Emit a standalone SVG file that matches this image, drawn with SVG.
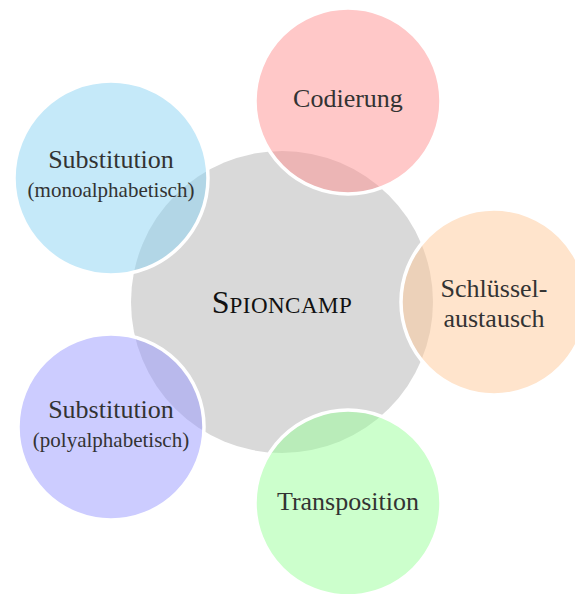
<svg xmlns="http://www.w3.org/2000/svg" width="575" height="594" viewBox="0 0 575 594">
<style>
.center{fill:#d9d9d9;}
.bub{fill-opacity:0.5;stroke:#ffffff;stroke-width:3.5;}
.t{font-family:"Liberation Serif","Times New Roman",serif;font-size:26px;fill:#333333;text-anchor:middle;}
.s{font-family:"Liberation Serif","Times New Roman",serif;font-size:21px;fill:#333333;text-anchor:middle;}
.c{font-family:"Liberation Serif","Times New Roman",serif;fill:#111111;text-anchor:middle;}
</style>
<rect width="575" height="594" fill="#ffffff"/>
<g id="spioncamp">
<circle class="center" cx="282" cy="302" r="151"/>
</g>
<g id="connectors"></g>
<g id="codierung">
<circle class="bub" cx="348" cy="101" r="93" fill="#ff9191"/>
<text class="t" x="348" y="107">Codierung</text>
</g>
<g id="schluesselaustausch">
<circle class="bub" cx="494" cy="302" r="93" fill="#ffc999"/>
<text class="t" x="494" y="297">Schlüssel-</text>
<text class="t" x="494" y="327">austausch</text>
</g>
<g id="transposition">
<circle class="bub" cx="348" cy="503" r="93" fill="#99ff99"/>
<text class="t" x="348" y="510">Transposition</text>
</g>
<g id="substitution-poly">
<circle class="bub" cx="111" cy="427" r="93" fill="#9999ff"/>
<text class="t" x="111" y="418">Substitution</text>
<text class="s" x="111" y="447">(polyalphabetisch)</text>
</g>
<g id="substitution-mono">
<circle class="bub" cx="111" cy="178" r="97" fill="#8bd3f3"/>
<text class="t" x="111" y="168">Substitution</text>
<text class="s" x="111" y="197">(monoalphabetisch)</text>
</g>
<g id="center-label">
<text class="c" x="282" y="313"><tspan font-size="32">S</tspan><tspan font-size="23" letter-spacing="0.5">PIONCAMP</tspan></text>
</g>
</svg>
